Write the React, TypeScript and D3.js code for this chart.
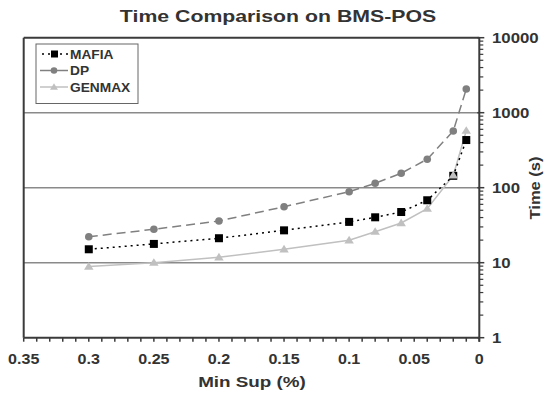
import React from "react";
import * as d3 from "d3";

const minSup = [0.3, 0.25, 0.2, 0.15, 0.1, 0.08, 0.06, 0.04, 0.02, 0.01];
const mafia = [15.1, 17.8, 21.2, 27, 35, 40.3, 47.4, 68, 144, 432];
const dp = [22.2, 27.9, 36, 55.8, 88.5, 114.5, 155.6, 240, 570, 2070];
const genmax = [8.9, 10, 11.8, 15.1, 19.9, 25.9, 33.8, 52.5, 146, 575];
const xTicks = [0.35, 0.3, 0.25, 0.2, 0.15, 0.1, 0.05, 0];
const yTicks = [1, 10, 100, 1000, 10000];
const gridValues = [10, 100, 1000];

const W = 551, H = 398;
const L = 23.7, R = 479.3, T = 37.7, B = 337.7;
const AX = "#3b3b3b";
const TXT = "#333";
const FONT = "'Liberation Sans', Arial, sans-serif";

function SText(props: {
  x: number; y: number; sx: number; size: number; anchor?: string; rotate?: number; children: React.ReactNode;
}) {
  const { x, y, sx, size, anchor = "start", rotate = 0, children } = props;
  return (
    <text
      transform={`translate(${x},${y}) rotate(${rotate}) scale(${sx},1)`}
      textAnchor={anchor}
      fontWeight="bold"
      fontSize={size}
      fill={TXT}
    >
      {children}
    </text>
  );
}

export default function App() {
  const x = d3.scaleLinear().domain([0.35, 0]).range([L, R]);
  const y = d3.scaleLog().domain([1, 10000]).range([B, T]);
  const line = d3.line<number>().x((_, i) => x(minSup[i])).y((d) => y(d));

  const minorX = d3.range(0, 36).map((i) => i / 100);
  const minorY: number[] = [];
  for (let e = 0; e < 4; e++) for (let k = 2; k <= 9; k++) minorY.push(k * Math.pow(10, e));

  const tri = (cx: number, cy: number, s: number) =>
    `M${cx},${cy - s}L${cx + s * 1.05},${cy + s * 0.7}L${cx - s * 1.05},${cy + s * 0.7}Z`;

  const legendItems = [
    { name: "MAFIA", type: "sq" },
    { name: "DP", type: "ci" },
    { name: "GENMAX", type: "tr" },
  ];

  return (
    <svg width={W} height={H} style={{ position: "absolute", left: 0, top: 0 }} fontFamily={FONT}>
      <rect width={W} height={H} fill="#fff" />
      <SText x={278} y={22} sx={1.33} size={16} anchor="middle">
        Time Comparison on BMS-POS
      </SText>
      {gridValues.map((g) => (
        <line key={g} x1={L} x2={R} y1={y(g)} y2={y(g)} stroke="#8a8a8a" strokeWidth={1.5} />
      ))}
      {/* frame */}
      <line x1={L} x2={R} y1={T} y2={T} stroke={AX} strokeWidth={2} />
      <line x1={L} x2={L} y1={T} y2={B} stroke={AX} strokeWidth={2} />
      <line x1={L} x2={R} y1={B} y2={B} stroke={AX} strokeWidth={2} />
      <line x1={R} x2={R} y1={T} y2={B + 4} stroke={AX} strokeWidth={2} />
      {minorX.map((v) => (
        <line key={v} x1={x(v)} x2={x(v)} y1={B} y2={B + 4} stroke={AX} strokeWidth={1.5} />
      ))}
      {minorY.map((v) => (
        <line key={v} x1={R} x2={R + 4} y1={y(v)} y2={y(v)} stroke={AX} strokeWidth={1.2} />
      ))}
      {yTicks.map((v) => (
        <line key={v} x1={R - 2} x2={R + 5} y1={y(v)} y2={y(v)} stroke={AX} strokeWidth={1.5} />
      ))}
      {xTicks.map((v) => (
        <SText key={v} x={x(v)} y={364} sx={1.15} size={14} anchor="middle">
          {String(v)}
        </SText>
      ))}
      {yTicks.map((v) => (
        <SText key={v} x={492} y={y(v) + 5} sx={1.2} size={14}>
          {String(v)}
        </SText>
      ))}
      <SText x={252} y={387} sx={1.3} size={14.5} anchor="middle">
        Min Sup (%)
      </SText>
      <SText x={540} y={188} sx={1.18} size={14} anchor="middle" rotate={-90}>
        Time (s)
      </SText>

      {/* series */}
      <path d={line(genmax) || ""} fill="none" stroke="#c0c0c0" strokeWidth={1.5} />
      <path d={line(dp) || ""} fill="none" stroke="#808080" strokeWidth={1.5} strokeDasharray="9,5" />
      <path d={line(mafia) || ""} fill="none" stroke="#000" strokeWidth={1.5} strokeDasharray="2,4" />
      {dp.map((v, i) => (
        <circle key={"d" + i} cx={x(minSup[i])} cy={y(v)} r={3.8} fill="#808080" />
      ))}
      {mafia.map((v, i) => (
        <rect key={"m" + i} x={x(minSup[i]) - 4} y={y(v) - 4} width={8} height={8} fill="#000" />
      ))}
      {genmax.map((v, i) => (
        <path key={"g" + i} d={tri(x(minSup[i]), y(v), 4.5)} fill="#c0c0c0" />
      ))}

      {/* legend */}
      <rect x={36} y={44} width={102} height={59.5} fill="#fff" stroke="#666" strokeWidth={1} />
      {legendItems.map((it, i) => {
        const cy = 54 + i * 16.5;
        return (
          <g key={it.name}>
            {it.type === "sq" && (
              <>
                <line x1={42} x2={68} y1={cy} y2={cy} stroke="#000" strokeWidth={1.5} strokeDasharray="2,4" />
                <rect x={51} y={cy - 3.5} width={7} height={7} fill="#000" />
              </>
            )}
            {it.type === "ci" && (
              <>
                <line x1={40} x2={68} y1={cy} y2={cy} stroke="#808080" strokeWidth={1.5} />
                <circle cx={54} cy={cy} r={3.3} fill="#808080" />
              </>
            )}
            {it.type === "tr" && (
              <>
                <line x1={40} x2={68} y1={cy} y2={cy} stroke="#c0c0c0" strokeWidth={1.5} />
                <path d={tri(54, cy, 3.8)} fill="#c0c0c0" />
              </>
            )}
            <SText x={70} y={cy + 4.5} sx={1.1} size={12.5}>
              {it.name}
            </SText>
          </g>
        );
      })}
    </svg>
  );
}
